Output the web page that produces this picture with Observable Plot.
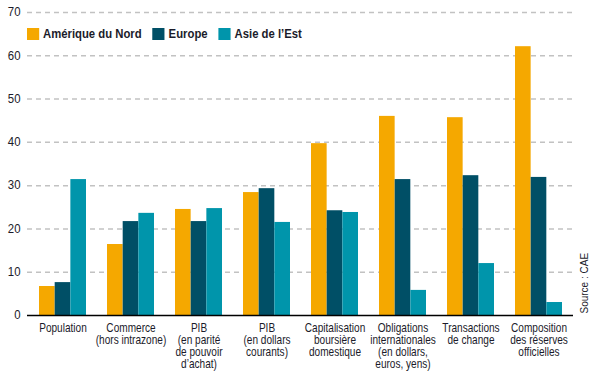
<!DOCTYPE html>
<html>
<head>
<meta charset="utf-8">
<script src="https://cdn.jsdelivr.net/npm/d3@7"></script>
<script src="https://cdn.jsdelivr.net/npm/@observablehq/plot@0.6"></script>
<style>
  html, body { margin: 0; padding: 0; background: white; }
  #wrap { position: relative; width: 598px; height: 373px; font-family: "Liberation Sans", Arial, sans-serif; }
  #legend { position: absolute; left: 27px; top: 27px; display: flex; gap: 12.6px; font-weight: bold; font-size: 13px; color: #1b1b2a; line-height: 14px; transform: scaleX(0.87); transform-origin: 0 0; white-space: nowrap; }
  #legend .item { display: flex; align-items: center; gap: 4.6px; }
  #legend .sw { width: 13.8px; height: 12px; display: inline-block; }
</style>
</head>
<body>
<div id="wrap"><div id="legend"></div></div>
<script>
const categories = [
  "Population",
  "Commerce\n(hors intrazone)",
  "PIB\n(en parité\nde pouvoir\nd’achat)",
  "PIB\n(en dollars\ncourants)",
  "Capitalisation\nboursière\ndomestique",
  "Obligations\ninternationales\n(en dollars,\neuros, yens)",
  "Transactions\nde change",
  "Composition\ndes réserves\nofficielles"
];
const seriesNames = ["Amérique du Nord", "Europe", "Asie de l’Est"];
const seriesColors = ["#F5A800", "#004F66", "#0095AB"];
const ameriqueDuNord = [6.7, 16.4, 24.5, 28.4, 39.7, 46.0, 45.7, 62.1];
const europe = [7.6, 21.7, 21.7, 29.3, 24.2, 31.4, 32.3, 31.9];
const asieDeLEst = [31.4, 23.6, 24.7, 21.5, 23.8, 5.8, 12.0, 3.0];
const yTicks = [0, 10, 20, 30, 40, 50, 60, 70];
const sourceText = "Source : CAE";

const seriesValues = [ameriqueDuNord, europe, asieDeLEst];
const rows = [];
seriesNames.forEach((s, si) => categories.forEach((c, ci) => rows.push({cat: c, series: s, value: seriesValues[si][ci]})));

const W = 598, H = 373, mL = 27, mR = 25, mT = 12, mB = 58;
const pIn = 0.31, pOut = 0.16;
const step = (W - mL - mR) / (categories.length - pIn + 2 * pOut);
const bw = step * (1 - pIn);
const barW = bw / 3;

const font = '"Liberation Sans", Arial, sans-serif';

const chart = Plot.plot({
  width: W, height: H,
  marginLeft: mL, marginRight: mR, marginTop: mT, marginBottom: mB,
  style: {fontFamily: font, color: "#1b1b2a", background: "white", overflow: "visible"},
  x: {type: "band", domain: categories, paddingInner: pIn, paddingOuter: pOut, label: null},
  y: {domain: [0, 70], label: null},
  color: {domain: seriesNames, range: seriesColors},
  marks: [
    Plot.gridY(yTicks.filter(d => d > 0), {stroke: "#c2c2c2", strokeOpacity: 1, strokeWidth: 1.5, strokeDasharray: "5,4"}),
    ...seriesNames.map((s, si) => Plot.barY(rows.filter(r => r.series === s), {
      x: "cat", y: "value", fill: "series",
      insetLeft: si * barW, insetRight: (2 - si) * barW
    })),
    Plot.ruleY([0], {stroke: "#000", strokeWidth: 1.6}),
    Plot.axisY({ticks: yTicks, tickSize: 0, tickPadding: 7, fontSize: 12, label: null}),
    Plot.axisX({tickSize: 0, tickPadding: 8, fontSize: 12, lineHeight: 1.0, label: null}),
    Plot.text([sourceText], {frameAnchor: "bottom-right", rotate: -90, textAnchor: "start", dx: 14, dy: -2, fontSize: 10, fill: "#1b1b2a", ariaLabel: "source"})
  ]
});
document.getElementById("wrap").prepend(chart);

// condensed look: squeeze text horizontally around its anchor
function squeeze(selector, k) {
  chart.querySelectorAll(selector).forEach(t => {
    const tr = t.getAttribute("transform") || "";
    t.setAttribute("transform", tr + ` scale(${k},1)`);
  });
}
squeeze('g[aria-label="x-axis tick label"] text', 0.84);
squeeze('g[aria-label="y-axis tick label"] text', 0.95);
squeeze('g[aria-label="source"] text', 0.8);

const legend = document.getElementById("legend");
seriesNames.forEach((s, i) => {
  const item = document.createElement("span");
  item.className = "item";
  const sw = document.createElement("span");
  sw.className = "sw";
  sw.style.background = seriesColors[i];
  const t = document.createElement("span");
  t.textContent = s;
  item.appendChild(sw); item.appendChild(t);
  legend.appendChild(item);
});
</script>
</body>
</html>
